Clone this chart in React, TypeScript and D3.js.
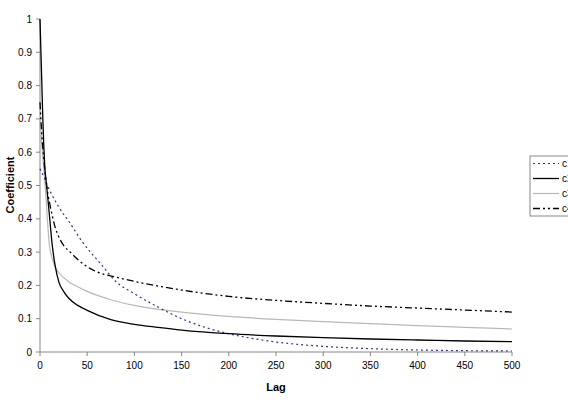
import React, { useEffect, useRef } from "react";
import * as d3 from "d3";

const W = 568;
const H = 402;

// lag -> coefficient
const dottedLags = [0, 5, 10, 20, 32, 45, 64, 81, 100, 125, 150, 175, 200, 250, 300, 350, 400, 450, 500];
const dottedVals = [0.55, 0.52, 0.487, 0.435, 0.386, 0.33, 0.266, 0.21, 0.175, 0.135, 0.1, 0.074, 0.055, 0.03, 0.017, 0.01, 0.006, 0.004, 0.003];

const solidLags = [0, 1, 2, 3, 4, 5, 7, 10, 13, 16, 20, 25, 30, 40, 50, 75, 100, 125, 150, 200, 250, 300, 350, 400, 450, 500];
const solidVals = [1.0, 0.9, 0.8, 0.7, 0.62, 0.56, 0.5, 0.41, 0.32, 0.26, 0.21, 0.182, 0.163, 0.14, 0.125, 0.097, 0.083, 0.074, 0.066, 0.055, 0.048, 0.043, 0.039, 0.036, 0.033, 0.031];

const grayLags = [0, 2, 4, 6, 8, 10, 13, 16, 20, 30, 40, 50, 75, 100, 150, 200, 250, 300, 350, 400, 450, 500];
const grayVals = [0.7, 0.62, 0.55, 0.48, 0.39, 0.32, 0.28, 0.255, 0.238, 0.212, 0.196, 0.182, 0.157, 0.14, 0.12, 0.107, 0.098, 0.091, 0.085, 0.079, 0.074, 0.069];

const dashLags = [0, 2, 4, 7, 10, 13, 16, 20, 25, 32, 40, 50, 60, 80, 100, 150, 200, 250, 300, 350, 400, 450, 500];
const dashVals = [0.75, 0.65, 0.58, 0.5, 0.45, 0.41, 0.375, 0.345, 0.32, 0.3, 0.278, 0.256, 0.241, 0.225, 0.212, 0.186, 0.167, 0.155, 0.146, 0.138, 0.132, 0.126, 0.12];

const seriesNames = ["c1", "c2", "c3", "c4"];
const xTicks = [0, 50, 100, 150, 200, 250, 300, 350, 400, 450, 500];
const yTicks = [0, 0.1, 0.2, 0.3, 0.4, 0.5, 0.6, 0.7, 0.8, 0.9, 1];

const styles = [
  { color: "#333399", dash: "2,3", width: 1.2 },
  { color: "#000000", dash: null, width: 1.3 },
  { color: "#b8b8b8", dash: null, width: 1.2 },
  { color: "#000000", dash: "7,3,2,3,2,3", width: 1.3 },
];

export default function App() {
  const ref = useRef<SVGSVGElement>(null);

  useEffect(() => {
    if (!ref.current) return;
    const svg = d3.select(ref.current);
    svg.selectAll("*").remove();

    const x = d3.scaleLinear().domain([0, 500]).range([40, 512]);
    const y = d3.scaleLinear().domain([0, 1]).range([352, 19]);
    const font = "'Liberation Sans', Arial, sans-serif";

    // axes
    const ax = svg.append("g").attr("stroke", "#868686").attr("fill", "none");
    ax.append("line").attr("x1", x(0)).attr("x2", x(0)).attr("y1", y(0)).attr("y2", y(1));
    ax.append("line").attr("x1", x(0)).attr("x2", x(500)).attr("y1", y(0)).attr("y2", y(0));
    yTicks.forEach((t) => {
      ax.append("line").attr("x1", x(0) - 4).attr("x2", x(0)).attr("y1", y(t)).attr("y2", y(t));
    });
    xTicks.forEach((t) => {
      ax.append("line").attr("x1", x(t)).attr("x2", x(t)).attr("y1", y(0)).attr("y2", y(0) + 4);
    });

    svg.append("g").selectAll("text").data(yTicks).join("text")
      .attr("x", x(0) - 8).attr("y", (d) => y(d) + 3.5)
      .attr("text-anchor", "end").attr("font-family", font).attr("font-size", 10)
      .text((d) => String(d));

    svg.append("g").selectAll("text").data(xTicks).join("text")
      .attr("x", (d) => x(d)).attr("y", y(0) + 17)
      .attr("text-anchor", "middle").attr("font-family", font).attr("font-size", 10)
      .text((d) => String(d));

    svg.append("text").attr("x", 276).attr("y", 391).attr("text-anchor", "middle")
      .attr("font-family", font).attr("font-size", 11).attr("font-weight", "bold").text("Lag");
    svg.append("text").attr("transform", "translate(14,185) rotate(-90)").attr("text-anchor", "middle")
      .attr("font-family", font).attr("font-size", 11).attr("font-weight", "bold").text("Coefficient");

    const lines = [
      { lags: dottedLags, vals: dottedVals },
      { lags: solidLags, vals: solidVals },
      { lags: grayLags, vals: grayVals },
      { lags: dashLags, vals: dashVals },
    ];
    const drawOrder = [2, 0, 3, 1];
    const gen = d3.line<[number, number]>().x((d) => x(d[0])).y((d) => y(d[1])).curve(d3.curveMonotoneX);
    drawOrder.forEach((i) => {
      const s = lines[i];
      const pts = s.lags.map((l, k) => [l, s.vals[k]] as [number, number]);
      svg.append("path").attr("d", gen(pts)).attr("fill", "none")
        .attr("stroke", styles[i].color).attr("stroke-width", styles[i].width)
        .attr("stroke-dasharray", styles[i].dash);
    });

    // legend
    const lg = svg.append("g").attr("transform", "translate(530,156)");
    lg.append("rect").attr("x", 0).attr("y", 0).attr("width", 60).attr("height", 60)
      .attr("fill", "white").attr("stroke", "#888");
    seriesNames.forEach((n, i) => {
      const yy = 7.5 + i * 15;
      lg.append("line").attr("x1", 3).attr("x2", 29).attr("y1", yy).attr("y2", yy)
        .attr("stroke", styles[i].color).attr("stroke-width", styles[i].width)
        .attr("stroke-dasharray", styles[i].dash);
      lg.append("text").attr("x", 32).attr("y", yy + 3.5).attr("font-family", font)
        .attr("font-size", 10).text(n);
    });
  }, []);

  return (
    <svg ref={ref} width={W} height={H}
      style={{ position: "absolute", left: 0, top: 0, background: "white" }} />
  );
}
